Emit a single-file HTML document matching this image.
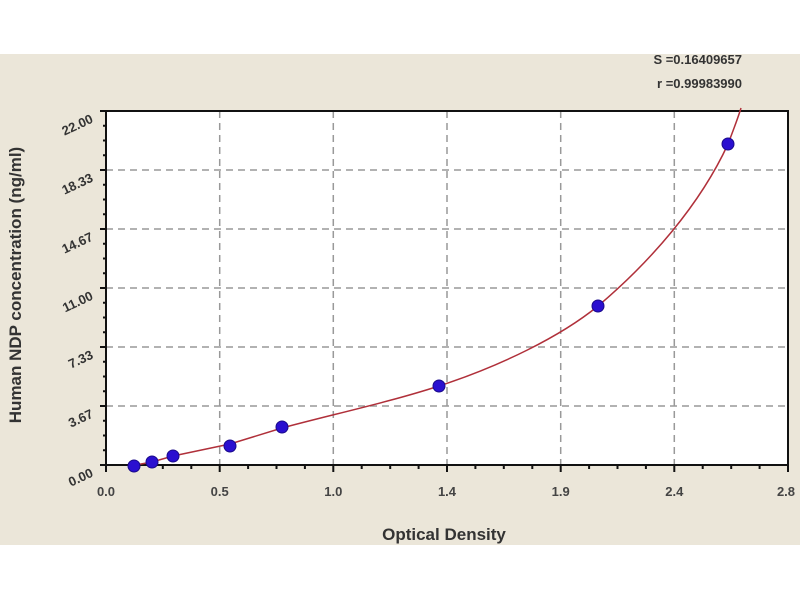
<!DOCTYPE html>
<html><head><meta charset="utf-8"><style>
body{margin:0;background:#fff;}
svg{display:block;font-family:"Liberation Sans",sans-serif;}
</style></head><body>
<svg width="800" height="600" viewBox="0 0 800 600">
<rect x="0" y="0" width="800" height="600" fill="#fff"/>
<rect x="0" y="54" width="800" height="491" fill="#ebe6d9"/>
<rect x="106" y="111" width="682" height="354" fill="#fff"/>
<g stroke="#999" stroke-width="1.5" stroke-dasharray="7,5">
<line x1="219.7" y1="111" x2="219.7" y2="465"/>
<line x1="333.3" y1="111" x2="333.3" y2="465"/>
<line x1="447" y1="111" x2="447" y2="465"/>
<line x1="560.7" y1="111" x2="560.7" y2="465"/>
<line x1="674.3" y1="111" x2="674.3" y2="465"/>
<line x1="106" y1="170" x2="788" y2="170"/>
<line x1="106" y1="229" x2="788" y2="229"/>
<line x1="106" y1="288" x2="788" y2="288"/>
<line x1="106" y1="347" x2="788" y2="347"/>
<line x1="106" y1="406" x2="788" y2="406"/>
</g>
<rect x="106" y="111" width="682" height="354" fill="none" stroke="#111" stroke-width="2"/>
<g stroke="#111" stroke-width="2">
<line x1="100" y1="111" x2="106" y2="111"/><line x1="100" y1="170" x2="106" y2="170"/><line x1="100" y1="229" x2="106" y2="229"/><line x1="100" y1="288" x2="106" y2="288"/><line x1="100" y1="347" x2="106" y2="347"/><line x1="100" y1="406" x2="106" y2="406"/><line x1="100" y1="465" x2="106" y2="465"/>
<line x1="103" y1="125.75" x2="106" y2="125.75"/><line x1="103" y1="140.5" x2="106" y2="140.5"/><line x1="103" y1="155.25" x2="106" y2="155.25"/>
<line x1="103" y1="184.75" x2="106" y2="184.75"/><line x1="103" y1="199.5" x2="106" y2="199.5"/><line x1="103" y1="214.25" x2="106" y2="214.25"/>
<line x1="103" y1="243.75" x2="106" y2="243.75"/><line x1="103" y1="258.5" x2="106" y2="258.5"/><line x1="103" y1="273.25" x2="106" y2="273.25"/>
<line x1="103" y1="302.75" x2="106" y2="302.75"/><line x1="103" y1="317.5" x2="106" y2="317.5"/><line x1="103" y1="332.25" x2="106" y2="332.25"/>
<line x1="103" y1="361.75" x2="106" y2="361.75"/><line x1="103" y1="376.5" x2="106" y2="376.5"/><line x1="103" y1="391.25" x2="106" y2="391.25"/>
<line x1="103" y1="420.75" x2="106" y2="420.75"/><line x1="103" y1="435.5" x2="106" y2="435.5"/><line x1="103" y1="450.25" x2="106" y2="450.25"/>
<line x1="106" y1="465" x2="106" y2="472"/><line x1="219.7" y1="465" x2="219.7" y2="472"/><line x1="333.3" y1="465" x2="333.3" y2="472"/><line x1="447" y1="465" x2="447" y2="472"/><line x1="560.7" y1="465" x2="560.7" y2="472"/><line x1="674.3" y1="465" x2="674.3" y2="472"/><line x1="788" y1="465" x2="788" y2="472"/>
<line x1="134.4" y1="465" x2="134.4" y2="469"/><line x1="162.8" y1="465" x2="162.8" y2="469"/><line x1="191.3" y1="465" x2="191.3" y2="469"/>
<line x1="248.1" y1="465" x2="248.1" y2="469"/><line x1="276.5" y1="465" x2="276.5" y2="469"/><line x1="304.9" y1="465" x2="304.9" y2="469"/>
<line x1="361.7" y1="465" x2="361.7" y2="469"/><line x1="390.2" y1="465" x2="390.2" y2="469"/><line x1="418.6" y1="465" x2="418.6" y2="469"/>
<line x1="475.4" y1="465" x2="475.4" y2="469"/><line x1="503.8" y1="465" x2="503.8" y2="469"/><line x1="532.3" y1="465" x2="532.3" y2="469"/>
<line x1="589.1" y1="465" x2="589.1" y2="469"/><line x1="617.5" y1="465" x2="617.5" y2="469"/><line x1="645.9" y1="465" x2="645.9" y2="469"/>
<line x1="702.7" y1="465" x2="702.7" y2="469"/><line x1="731.2" y1="465" x2="731.2" y2="469"/><line x1="759.6" y1="465" x2="759.6" y2="469"/>
</g>
<path d="M130,466 L152,462 L173,456 L230,444 L282,428 C330,415 390,402 439,386 C500,366 560,337 598,306 C650,262 700,205 728,144 C733,131 738,118 741,108" fill="none" stroke="#b0303a" stroke-width="1.5"/>
<g fill="#2a0fd0" stroke="#1a0a8a" stroke-width="1">
<circle cx="134" cy="466" r="6"/><circle cx="152" cy="462" r="6"/><circle cx="173" cy="456" r="6"/><circle cx="230" cy="446" r="6"/><circle cx="282" cy="427" r="6"/><circle cx="439" cy="386" r="6"/><circle cx="598" cy="306" r="6"/><circle cx="728" cy="144" r="6"/>
</g>
<g font-size="13" font-weight="bold" fill="#333" text-anchor="end">
<text transform="translate(94,122) rotate(-25)">22.00</text>
<text transform="translate(94,181) rotate(-25)">18.33</text>
<text transform="translate(94,240) rotate(-25)">14.67</text>
<text transform="translate(94,299) rotate(-25)">11.00</text>
<text transform="translate(94,358) rotate(-25)">7.33</text>
<text transform="translate(94,417) rotate(-25)">3.67</text>
<text transform="translate(94,476) rotate(-25)">0.00</text>
</g>
<g font-size="13" font-weight="bold" fill="#444" text-anchor="middle">
<text x="106" y="496">0.0</text><text x="219.7" y="496">0.5</text><text x="333.3" y="496">1.0</text><text x="447" y="496">1.4</text><text x="560.7" y="496">1.9</text><text x="674.3" y="496">2.4</text><text x="786" y="496">2.8</text>
</g>
<text x="444" y="540" font-size="17" font-weight="bold" fill="#333" text-anchor="middle">Optical Density</text>
<text transform="translate(21,285) rotate(-90)" font-size="17" font-weight="bold" fill="#333" text-anchor="middle">Human NDP concentration (ng/ml)</text>
<text x="742" y="64" font-size="13" font-weight="bold" fill="#333" text-anchor="end">S =0.16409657</text>
<text x="742" y="88" font-size="13" font-weight="bold" fill="#333" text-anchor="end">r =0.99983990</text>
</svg>
</body></html>
